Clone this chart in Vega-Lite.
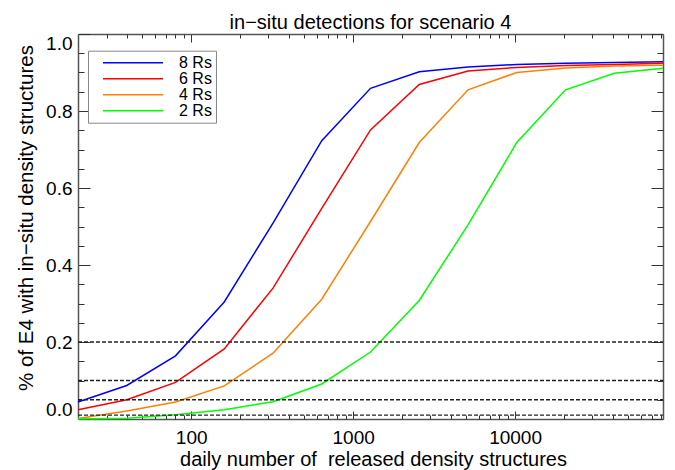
{
  "$schema": "https://vega.github.io/schema/vega-lite/v6.json",
  "width": 585,
  "height": 385,
  "autosize": {"type": "none"},
  "padding": {"left": 78, "top": 34, "right": 12, "bottom": 51},
  "background": "white",
  "title": {"text": "in−situ detections for scenario 4", "font": "Liberation Sans", "fontSize": 20, "fontWeight": "normal", "color": "#000", "anchor": "middle", "baseline": "alphabetic", "offset": 7.3, "dy": 23},
  "config": {
    "view": {"stroke": null},
    "font": "Liberation Sans",
    "axis": {"grid": false, "labelFont": "Liberation Sans", "labelFontSize": 19, "labelColor": "#000", "titleFont": "Liberation Sans", "titleFontSize": 20, "titleFontWeight": "normal", "titleColor": "#000", "domainColor": "#555", "domainWidth": 1.5, "tickColor": "#333", "tickWidth": 1}
  },
  "datasets": {
    "curves": [
      {"n": 20, "r": "8 Rs", "f": 0.044}, {"n": 40, "r": "8 Rs", "f": 0.087}, {"n": 80, "r": "8 Rs", "f": 0.164}, {"n": 160, "r": "8 Rs", "f": 0.304}, {"n": 320, "r": "8 Rs", "f": 0.509}, {"n": 640, "r": "8 Rs", "f": 0.723}, {"n": 1280, "r": "8 Rs", "f": 0.859}, {"n": 2560, "r": "8 Rs", "f": 0.902}, {"n": 5120, "r": "8 Rs", "f": 0.914}, {"n": 10240, "r": "8 Rs", "f": 0.921}, {"n": 20480, "r": "8 Rs", "f": 0.924}, {"n": 40960, "r": "8 Rs", "f": 0.926}, {"n": 81920, "r": "8 Rs", "f": 0.928},
      {"n": 20, "r": "6 Rs", "f": 0.024}, {"n": 40, "r": "6 Rs", "f": 0.050}, {"n": 80, "r": "6 Rs", "f": 0.095}, {"n": 160, "r": "6 Rs", "f": 0.182}, {"n": 320, "r": "6 Rs", "f": 0.340}, {"n": 640, "r": "6 Rs", "f": 0.547}, {"n": 1280, "r": "6 Rs", "f": 0.751}, {"n": 2560, "r": "6 Rs", "f": 0.869}, {"n": 5120, "r": "6 Rs", "f": 0.904}, {"n": 10240, "r": "6 Rs", "f": 0.913}, {"n": 20480, "r": "6 Rs", "f": 0.918}, {"n": 40960, "r": "6 Rs", "f": 0.921}, {"n": 81920, "r": "6 Rs", "f": 0.924},
      {"n": 20, "r": "4 Rs", "f": 0.001}, {"n": 40, "r": "4 Rs", "f": 0.021}, {"n": 80, "r": "4 Rs", "f": 0.044}, {"n": 160, "r": "4 Rs", "f": 0.086}, {"n": 320, "r": "4 Rs", "f": 0.171}, {"n": 640, "r": "4 Rs", "f": 0.311}, {"n": 1280, "r": "4 Rs", "f": 0.513}, {"n": 2560, "r": "4 Rs", "f": 0.718}, {"n": 5120, "r": "4 Rs", "f": 0.855}, {"n": 10240, "r": "4 Rs", "f": 0.900}, {"n": 20480, "r": "4 Rs", "f": 0.912}, {"n": 40960, "r": "4 Rs", "f": 0.917}, {"n": 81920, "r": "4 Rs", "f": 0.919},
      {"n": 20, "r": "2 Rs", "f": 0.000}, {"n": 40, "r": "2 Rs", "f": 0.002}, {"n": 80, "r": "2 Rs", "f": 0.011}, {"n": 160, "r": "2 Rs", "f": 0.024}, {"n": 320, "r": "2 Rs", "f": 0.045}, {"n": 640, "r": "2 Rs", "f": 0.091}, {"n": 1280, "r": "2 Rs", "f": 0.174}, {"n": 2560, "r": "2 Rs", "f": 0.308}, {"n": 5120, "r": "2 Rs", "f": 0.504}, {"n": 10240, "r": "2 Rs", "f": 0.718}, {"n": 20480, "r": "2 Rs", "f": 0.855}, {"n": 40960, "r": "2 Rs", "f": 0.898}, {"n": 81920, "r": "2 Rs", "f": 0.911}
    ],
    "levels": [{"t": 0.2}, {"t": 0.1}, {"t": 0.05}, {"t": 0.01}]
  },
  "layer": [
    {
      "data": {"name": "curves"},
      "mark": {"type": "line", "strokeWidth": 1.5},
      "encoding": {
        "x": {"field": "n", "type": "quantitative", "scale": {"type": "log", "domain": [20, 81920], "nice": false},
          "axis": {"orient": "bottom", "values": [100, 1000, 10000], "format": "d", "tickSize": -8, "labelPadding": 17, "title": "daily number of \u00a0released density structures", "titleX": 295, "titleY": 46.7, "titleBaseline": "alphabetic"}},
        "y": {"field": "f", "type": "quantitative", "scale": {"domain": [0, 1], "nice": false, "zero": false},
          "axis": {"orient": "left", "values": [0, 0.2, 0.4, 0.6, 0.8, 1.0], "format": ".1f", "tickSize": -12, "labelPadding": 18, "labelFlush": true, "title": "% of E4 with in−situ density structures", "titleFontSize": 20.5, "titleX": -45.5, "titleY": 183.5, "titleBaseline": "alphabetic"}},
        "color": {"field": "r", "type": "nominal",
          "scale": {"domain": ["8 Rs", "6 Rs", "4 Rs", "2 Rs"], "range": ["#0000ff", "#ff0000", "#ff8000", "#00ff00"]},
          "legend": {"title": null, "orient": "none", "legendX": 10, "legendY": 16.7, "symbolType": "M-5,0L5,0", "symbolSize": 144, "symbolStrokeWidth": 1.5, "labelFont": "Liberation Sans", "labelFontSize": 16, "labelColor": "#000", "labelOffset": 38, "symbolOffset": 33, "padding": 4, "rowPadding": 0, "strokeColor": "#888", "fillColor": "white", "labelLimit": 200}}
      }
    },
    {
      "data": {"name": "levels"},
      "transform": [{"filter": "datum.t >= 0.1"}],
      "mark": {"type": "rule", "strokeDash": [4, 2], "strokeWidth": 1.4, "color": "#222"},
      "encoding": {
        "x": {"datum": 20, "type": "quantitative", "scale": {"type": "log", "domain": [20, 81920], "nice": false},
          "axis": {"orient": "top", "values": [100, 1000, 10000], "tickSize": -8, "labels": false, "title": null}},
        "x2": {"datum": 81920},
        "y": {"field": "t", "type": "quantitative", "scale": {"domain": [0, 1], "nice": false, "zero": false},
          "axis": {"orient": "right", "values": [0, 0.2, 0.4, 0.6, 0.8, 1.0], "tickSize": -12, "labels": false, "title": null}}
      }
    },
    {
      "data": {"name": "levels"},
      "transform": [{"filter": "datum.t == 0.05"}],
      "mark": {"type": "rule", "strokeDash": [4, 2], "strokeWidth": 1.4, "color": "#222"},
      "encoding": {
        "x": {"datum": 20, "type": "quantitative", "scale": {"type": "log", "domain": [20, 81920], "nice": false},
          "axis": {"orient": "bottom", "values": [20, 30, 40, 50, 60, 70, 80, 90, 200, 300, 400, 500, 600, 700, 800, 900, 2000, 3000, 4000, 5000, 6000, 7000, 8000, 9000, 20000, 30000, 40000, 50000, 60000, 70000, 80000], "tickSize": -4, "labels": false, "domain": false, "title": null}},
        "x2": {"datum": 81920},
        "y": {"field": "t", "type": "quantitative", "scale": {"domain": [0, 1], "nice": false, "zero": false},
          "axis": {"orient": "left", "values": [0.05, 0.1, 0.15, 0.25, 0.3, 0.35, 0.45, 0.5, 0.55, 0.65, 0.7, 0.75, 0.85, 0.9, 0.95], "tickSize": -6, "labels": false, "domain": false, "title": null}}
      }
    },
    {
      "data": {"name": "levels"},
      "transform": [{"filter": "datum.t < 0.05"}],
      "mark": {"type": "rule", "strokeDash": [4, 2], "strokeWidth": 1.4, "color": "#222"},
      "encoding": {
        "x": {"datum": 20, "type": "quantitative", "scale": {"type": "log", "domain": [20, 81920], "nice": false},
          "axis": {"orient": "top", "values": [20, 30, 40, 50, 60, 70, 80, 90, 200, 300, 400, 500, 600, 700, 800, 900, 2000, 3000, 4000, 5000, 6000, 7000, 8000, 9000, 20000, 30000, 40000, 50000, 60000, 70000, 80000], "tickSize": -4, "labels": false, "domain": false, "title": null}},
        "x2": {"datum": 81920},
        "y": {"field": "t", "type": "quantitative", "scale": {"domain": [0, 1], "nice": false, "zero": false},
          "axis": {"orient": "right", "values": [0.05, 0.1, 0.15, 0.25, 0.3, 0.35, 0.45, 0.5, 0.55, 0.65, 0.7, 0.75, 0.85, 0.9, 0.95], "tickSize": -6, "labels": false, "domain": false, "title": null}}
      }
    }
  ],
  "resolve": {"axis": {"x": "independent", "y": "independent"}}
}
